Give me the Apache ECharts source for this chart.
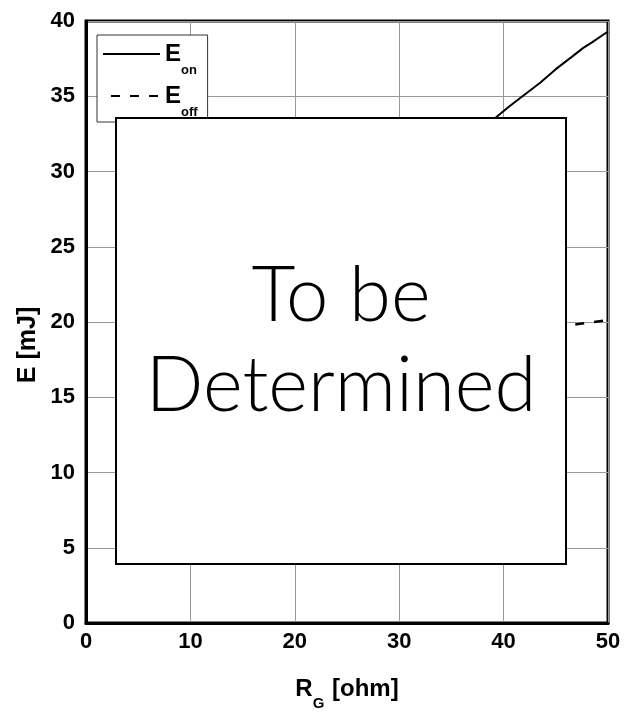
<!DOCTYPE html>
<html>
<head>
<meta charset="utf-8">
<script src="https://cdn.jsdelivr.net/npm/echarts@6/dist/echarts.min.js"></script>
<style>
  html, body { margin: 0; padding: 0; background: #fff; }
  #chart { width: 634px; height: 713px; }
</style>
</head>
<body>
<div id="chart"></div>
<script>
// Switching energy vs. gate resistance
const eonRg  = [38.0, 39.2, 40.5, 42.0, 43.5, 45.0, 46.5, 47.6, 48.5, 50.0];
const eonE   = [33.0, 33.55, 34.3, 35.1, 35.9, 36.8, 37.6, 38.2, 38.6, 39.3];
const eoffRg = [44.3, 47.0, 48.5, 50.0];
const eoffE  = [19.6, 19.85, 19.98, 20.12];

const seriesNames = ['Eon', 'Eoff'];
const legendMain = { Eon: 'E', Eoff: 'E' };
const legendSub  = { Eon: 'on', Eoff: 'off' };
const noteLines = ['To be', 'Determined'];

const FONT = 'Liberation Sans, Arial, sans-serif';

const chart = echarts.init(document.getElementById('chart'), null, { renderer: 'canvas' });

const pairs = (xs, ys) => xs.map((x, i) => [x, ys[i]]);

chart.setOption({
  animation: false,
  backgroundColor: '#fff',
  grid: {
    left: 86, right: 26, top: 21, bottom: 90,
    containLabel: false,
    outerBoundsMode: 'none',
    show: true,
    borderColor: '#000',
    borderWidth: 3,
    backgroundColor: 'transparent'
  },
  xAxis: {
    type: 'value',
    min: 0, max: 50, interval: 10,
    name: '{m|R}{s|G}{m| [ohm]}',
    nameLocation: 'middle',
    nameGap: 54,
    nameMoveOverlap: false,
    nameTextStyle: {
      rich: {
        m: { fontFamily: FONT, fontWeight: 'bold', fontSize: 24, lineHeight: 24, color: '#000', verticalAlign: 'top' },
        s: { fontFamily: FONT, fontWeight: 'bold', fontSize: 15, lineHeight: 15, color: '#000', verticalAlign: 'top', padding: [19, 1, 0, 0] }
      }
    },
    axisLine: { show: true, lineStyle: { color: '#000', width: 3 } },
    axisTick: { show: false },
    axisLabel: { fontFamily: FONT, fontWeight: 'bold', fontSize: 22, color: '#000', margin: 8 },
    splitLine: { show: true, lineStyle: { color: '#999', width: 1 } }
  },
  yAxis: {
    type: 'value',
    min: 0, max: 40, interval: 5,
    name: 'E [mJ]',
    nameLocation: 'middle',
    nameGap: 45,
    nameMoveOverlap: false,
    nameTextStyle: {
      fontFamily: FONT, fontWeight: 'bold', fontSize: 25, color: '#000',
      padding: [0, 46, 0, 0]
    },
    axisLine: { show: true, lineStyle: { color: '#000', width: 3 } },
    axisTick: { show: false },
    axisLabel: { fontFamily: FONT, fontWeight: 'bold', fontSize: 22, color: '#000', margin: 11 },
    splitLine: { show: true, lineStyle: { color: '#999', width: 1 } }
  },
  legend: {
    data: seriesNames,
    orient: 'vertical',
    left: 97, top: 35,
    padding: [-4, 10, 3, 5],
    itemGap: -4,
    itemWidth: 57,
    itemHeight: 14,
    backgroundColor: '#fff',
    borderColor: '#333',
    borderWidth: 1,
    borderRadius: 0,
    selectedMode: false,
    itemStyle: { color: 'transparent', borderColor: 'transparent', borderWidth: 0, opacity: 0 },
    formatter: name => `{e|${legendMain[name]}}{s|${legendSub[name]}}`,
    textStyle: {
      rich: {
        e: { fontFamily: FONT, fontWeight: 'bold', fontSize: 24, lineHeight: 24, color: '#000', verticalAlign: 'middle' },
        s: { fontFamily: FONT, fontWeight: 'bold', fontSize: 13, lineHeight: 13, color: '#000', verticalAlign: 'middle', padding: [33, 0, 0, 0] }
      }
    }
  },
  series: [
    {
      name: seriesNames[0],
      type: 'line',
      data: pairs(eonRg, eonE),
      symbol: 'none',
      showSymbol: false,
      clip: true,
      lineStyle: { color: '#000', width: 2, type: 'solid' },
      itemStyle: { color: '#000' },
      z: 3
    },
    {
      name: seriesNames[1],
      type: 'line',
      data: pairs(eoffRg, eoffE),
      symbol: 'none',
      showSymbol: false,
      clip: true,
      lineStyle: { color: '#000', width: 2.5, type: [9, 10], dashOffset: 11 },
      itemStyle: { color: '#000' },
      z: 3
    }
  ],
  graphic: [
    {
      type: 'group',
      z: 100,
      children: [
        {
          type: 'rect',
          shape: { x: 116, y: 118, width: 450, height: 446 },
          style: { fill: '#fff', stroke: '#000', lineWidth: 2 },
          z: 100
        },
        {
          type: 'text',
          x: 341, y: 341,
          z: 101,
          style: {
            text: noteLines.join('\n'),
            fontFamily: 'Lato, Inter, Noto Sans, sans-serif',
            fontWeight: 300,
            fontSize: 76,
            lineHeight: 90,
            fill: '#000',
            align: 'center',
            verticalAlign: 'middle'
          }
        }
      ]
    }
  ]
});
</script>
</body>
</html>
